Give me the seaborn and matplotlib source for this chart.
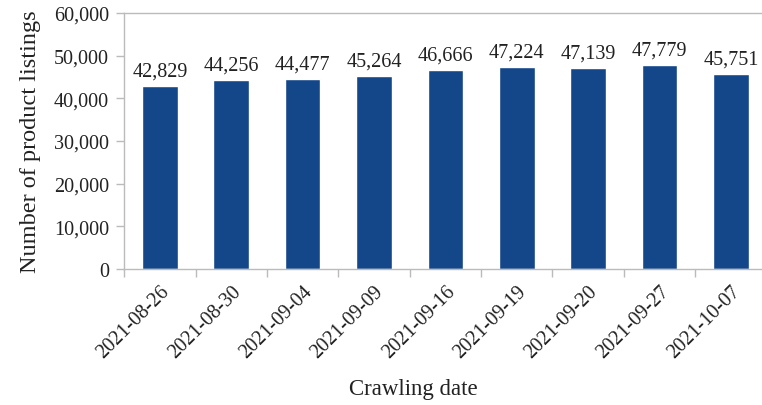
import matplotlib
matplotlib.use("Agg")
import matplotlib.pyplot as plt
import seaborn as sns
import pandas as pd
import numpy as np
from matplotlib.ticker import FuncFormatter, FixedLocator

dates = ["2021-08-26", "2021-08-30", "2021-09-04", "2021-09-09", "2021-09-16",
         "2021-09-19", "2021-09-20", "2021-09-27", "2021-10-07"]
listings = [42829, 44256, 44477, 45264, 46666, 47224, 47139, 47779, 45751]

sns.set_theme(style="white")
plt.rcParams['font.family'] = ['Liberation Serif', 'DejaVu Serif']

df = pd.DataFrame({"date": dates, "count": listings})

fig, ax = plt.subplots(figsize=(7.62, 4.06), dpi=100)
fig.subplots_adjust(left=0.163, right=1.006, top=0.966, bottom=0.335)

sns.barplot(data=df, x="date", y="count", color="#13478A", saturation=1,
            width=0.5, ax=ax)

for p, v in zip(ax.patches, listings):
    ax.text(p.get_x() + p.get_width() / 2, v + 1300, f"{v:,}",
            ha="center", va="bottom", fontsize=14.5, color="#222222")

ax.set_ylim(0, 60000)
ax.set_xlim(-0.5, len(dates) - 0.5)
ax.set_yticks(np.arange(0, 60001, 10000))
ax.yaxis.set_major_formatter(FuncFormatter(lambda v, _: f"{int(v):,}"))

ax.set_xticks(range(len(dates)))
ax.set_xticklabels(dates, rotation=45, ha="right", rotation_mode="anchor")
ax.xaxis.set_minor_locator(FixedLocator(np.arange(-0.5, len(dates), 1.0)))

ax.tick_params(axis="x", which="major", length=0, pad=9, labelsize=14.5, colors="#222222")
ax.tick_params(axis="x", which="minor", length=6, width=1, color="#BBBBBB", direction="out", bottom=True)
ax.tick_params(axis="y", length=6, width=1, color="#BBBBBB", direction="out", left=True,
               labelsize=14.5, labelcolor="#222222", pad=5)

for s in ["left", "bottom", "top"]:
    ax.spines[s].set_visible(True)
    ax.spines[s].set_color("#BBBBBB")
    ax.spines[s].set_linewidth(1)
ax.spines["right"].set_visible(False)

ax.set_xlabel("Crawling date", fontsize=16.5, color="#222222")
ax.xaxis.set_label_coords(0.45, -0.425)
ax.set_ylabel("Number of product listings", fontsize=17.5, color="#222222", labelpad=9)

fig.savefig("out.png", dpi=100)
